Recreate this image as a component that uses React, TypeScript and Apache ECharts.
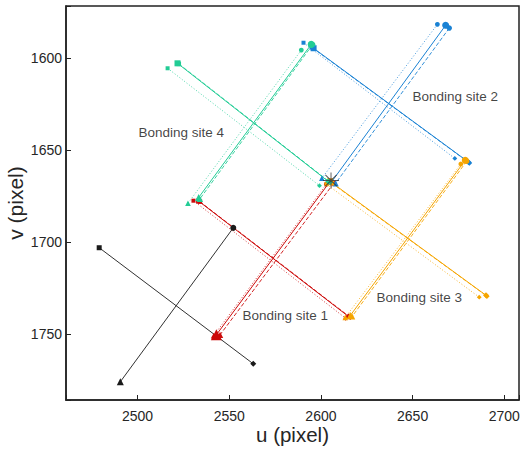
import React, { useEffect, useRef } from "react";
import * as echarts from "echarts";

// axis extents (data units)
const xRange = [2461, 2708];
const yRange = [1571.5, 1786];
const tickStep = 50;

// point order in every list: square, circle, diamond, triangle
const referencePts = [[2479.1, 1703.1], [2552.2, 1692.3], [2563.1, 1766.3], [2490.6, 1776.1]];
const centerStar = [2605.5, 1666.5];

const site1Solid = [[2533.3, 1677.7], [2605.0, 1667.0], [2615.0, 1740.5], [2543.0, 1750.5]];
const site1Dashed = [[2534.0, 1678.0], [2607.0, 1668.0], [2616.0, 1741.0], [2545.0, 1750.5]];
const site1Dotted = [[2530.5, 1677.5], [2603.0, 1668.5], [2613.5, 1741.5], [2541.5, 1751.0]];

const site2Solid = [[2596.0, 1594.5], [2668.0, 1582.0], [2680.5, 1656.5], [2606.0, 1667.0]];
const site2Dashed = [[2595.0, 1594.0], [2670.0, 1583.5], [2681.0, 1657.0], [2608.0, 1668.0]];
const site2Dotted = [[2590.5, 1591.5], [2663.5, 1581.5], [2673.0, 1654.5], [2600.5, 1665.3]];

const site3Solid = [[2605.0, 1667.0], [2678.7, 1655.5], [2690.0, 1729.0], [2616.0, 1740.0]];
const site3Dashed = [[2606.0, 1668.0], [2679.5, 1656.0], [2690.5, 1729.5], [2617.0, 1740.5]];
const site3Dotted = [[2603.0, 1668.5], [2676.3, 1657.5], [2686.3, 1730.0], [2613.3, 1741.0]];

const site4Solid = [[2521.8, 1602.7], [2594.7, 1592.4], [2604.0, 1667.0], [2533.3, 1675.8]];
const site4Dashed = [[2522.5, 1603.0], [2595.5, 1592.5], [2605.0, 1667.5], [2534.0, 1676.5]];
const site4Dotted = [[2516.4, 1605.4], [2589.3, 1595.5], [2599.2, 1669.3], [2527.5, 1678.9]];

const siteLabels = ["Bonding site 1", "Bonding site 2", "Bonding site 3", "Bonding site 4"];
const siteLabelPos = [[2580.5, 1740.2], [2673.2, 1620.5], [2653.6, 1730.4], [2523.8, 1640.6]];

const siteColors = ["#cc0a0a", "#1a82d4", "#f5a500", "#22cc95"];

const SYMBOLS = ["rect", "circle", "diamond", "triangle"];
const SYM_SIZES = [5, 6, 6, 7];

const STAR_PATH =
  "path://M0 9.4H20V10.6H0Z M9.4 0H10.6V20H9.4Z M2.5 3.4L3.4 2.5L17.5 16.6L16.6 17.5Z M16.6 2.5L17.5 3.4L3.4 17.5L2.5 16.6Z";

const FONT = "Liberation Sans, Arial, sans-serif";

function pairSeries(
  pts: number[][],
  color: string,
  lineType: any,
  width: number,
  scale: number,
  sizeOverride: number[] = SYM_SIZES
) {
  const mk = (i: number) => ({
    value: pts[i],
    symbol: SYMBOLS[i],
    symbolSize: sizeOverride[i] * scale,
  });
  const base = {
    type: "line",
    showSymbol: true,
    silent: true,
    lineStyle: { color, width, type: lineType },
    itemStyle: { color, borderWidth: 0 },
    z: 3,
  };
  return [
    { ...base, data: [mk(0), mk(2)] },
    { ...base, data: [mk(1), mk(3)] },
  ];
}

export default function App() {
  const ref = useRef<HTMLDivElement>(null);
  useEffect(() => {
    if (!ref.current) return;
    const chart = echarts.init(ref.current, undefined, { renderer: "svg" });
    const sites = [
      [site1Solid, site1Dashed, site1Dotted],
      [site2Solid, site2Dashed, site2Dotted],
      [site3Solid, site3Dashed, site3Dotted],
      [site4Solid, site4Dashed, site4Dotted],
    ];
    const series: any[] = [];
    series.push(...pairSeries(referencePts, "#1a1a1a", "solid", 0.9, 1));
    sites.forEach((variants, si) => {
      const c = siteColors[si];
      series.push(...pairSeries(variants[2], c, [1, 2], 0.8, 0.8));
      series.push(...pairSeries(variants[1], c, [4, 2], 0.9, 0.9));
      series.push(
        ...pairSeries(variants[0], c, "solid", 1, 1, si === 0 ? [5, 6, 6, 11] : [6, 7, 6, 7])
      );
    });
    series.push({
      type: "scatter",
      silent: true,
      data: [centerStar],
      symbol: STAR_PATH,
      symbolSize: 16,
      itemStyle: { color: "#333" },
      z: 5,
    });
    series.push({
      type: "scatter",
      silent: true,
      data: siteLabelPos.map((p, i) => ({ value: p, name: siteLabels[i] })),
      symbolSize: 0,
      label: {
        show: true,
        position: "inside",
        formatter: (p: any) => p.name,
        fontFamily: FONT,
        fontSize: 13.5,
        color: "#111",
      },
      z: 6,
    });

    const labelFmt = (v: number) => (Math.abs(v % tickStep) < 1e-6 ? String(v) : "");
    chart.setOption({
      animation: false,
      grid: {
        left: 66,
        top: 6,
        right: 2,
        bottom: 56,
        containLabel: false,
        outerBoundsMode: "none",
        show: true,
        borderColor: "#222",
        borderWidth: 1.5,
        backgroundColor: "transparent",
      },
      xAxis: {
        type: "value",
        min: xRange[0],
        max: xRange[1],
        name: "u (pixel)",
        nameLocation: "middle",
        nameGap: 24,
        nameMoveOverlap: false,
        nameTextStyle: { fontSize: 20.5, lineHeight: 20, color: "#262626", fontFamily: FONT },
        splitLine: { show: false },
        axisLine: { show: true, lineStyle: { color: "#222", width: 1.5 } },
        axisTick: { show: true, inside: true, length: 5, lineStyle: { color: "#222" } },
        axisLabel: {
          formatter: labelFmt,
          fontSize: 14,
          lineHeight: 14,
          color: "#262626",
          margin: 9,
          fontFamily: FONT,
        },
      },
      yAxis: {
        type: "value",
        inverse: true,
        min: yRange[0],
        max: yRange[1],
        name: "v (pixel)",
        nameLocation: "middle",
        nameGap: 40,
        nameMoveOverlap: false,
        nameTextStyle: { fontSize: 21, color: "#262626", fontFamily: FONT },
        splitLine: { show: false },
        axisLine: { show: true, lineStyle: { color: "#222", width: 1.5 } },
        axisTick: { show: true, inside: true, length: 5, lineStyle: { color: "#222" } },
        axisLabel: {
          formatter: labelFmt,
          fontSize: 14,
          color: "#262626",
          margin: 4,
          fontFamily: FONT,
        },
      },
      series,
    });
    return () => chart.dispose();
  }, []);
  return <div ref={ref} style={{ width: 521, height: 456, position: "absolute", left: 0, top: 0 }} />;
}
